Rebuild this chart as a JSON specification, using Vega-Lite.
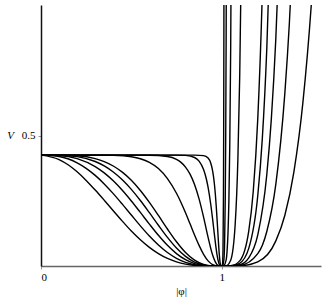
{
  "$schema": "https://vega.github.io/schema/vega-lite/v6.json",
  "width": 280,
  "height": 261,
  "autosize": {"type": "none"},
  "padding": {"left": 41, "top": 5, "right": 6, "bottom": 35},
  "config": {"view": {"stroke": null}, "font": "Liberation Serif"},
  "datasets": {
    "curves": [
      {"c":"2","phi":0,"V":0.425},{"c":"2","phi":0.1,"V":0.408},{"c":"2","phi":0.15,"V":0.388},{"c":"2","phi":0.2,"V":0.361},{"c":"2","phi":0.25,"V":0.328},{"c":"2","phi":0.3,"V":0.291},{"c":"2","phi":0.35,"V":0.252},{"c":"2","phi":0.4,"V":0.212},{"c":"2","phi":0.45,"V":0.172},{"c":"2","phi":0.5,"V":0.134},{"c":"2","phi":0.55,"V":0.1006},{"c":"2","phi":0.6,"V":0.0713},{"c":"2","phi":0.65,"V":0.0473},{"c":"2","phi":0.7,"V":0.0288},{"c":"2","phi":0.75,"V":0.0156},{"c":"2","phi":0.8,"V":0.0071},{"c":"2","phi":0.9,"V":0.0006},{"c":"2","phi":1,"V":0},{"c":"2","phi":1.1,"V":0.0008},{"c":"2","phi":1.2,"V":0.0159},{"c":"2","phi":1.3,"V":0.0963},{"c":"2","phi":1.35,"V":0.1945},{"c":"2","phi":1.4,"V":0.361},{"c":"2","phi":1.45,"V":0.628},{"c":"2","phi":1.5,"V":1.038},{"c":"2","phi":1.55,"V":1.644},

      {"c":"2.5","phi":0,"V":0.425},{"c":"2.5","phi":0.1,"V":0.4196},{"c":"2.5","phi":0.2,"V":0.3954},{"c":"2.5","phi":0.25,"V":0.3743},{"c":"2.5","phi":0.3,"V":0.3472},{"c":"2.5","phi":0.35,"V":0.3146},{"c":"2.5","phi":0.4,"V":0.2773},{"c":"2.5","phi":0.45,"V":0.2369},{"c":"2.5","phi":0.5,"V":0.1952},{"c":"2.5","phi":0.55,"V":0.1538},{"c":"2.5","phi":0.6,"V":0.1149},{"c":"2.5","phi":0.65,"V":0.0804},{"c":"2.5","phi":0.7,"V":0.0515},{"c":"2.5","phi":0.75,"V":0.0294},{"c":"2.5","phi":0.8,"V":0.0142},{"c":"2.5","phi":0.9,"V":0.0012},{"c":"2.5","phi":1,"V":0},{"c":"2.5","phi":1.1,"V":0.0022},{"c":"2.5","phi":1.2,"V":0.0472},{"c":"2.5","phi":1.25,"V":0.1323},{"c":"2.5","phi":1.3,"V":0.3136},{"c":"2.5","phi":1.35,"V":0.6633},{"c":"2.5","phi":1.375,"V":0.932},{"c":"2.5","phi":1.4,"V":1.287},

      {"c":"3","phi":0,"V":0.425},{"c":"3","phi":0.1,"V":0.4233},{"c":"3","phi":0.2,"V":0.4116},{"c":"3","phi":0.3,"V":0.3809},{"c":"3","phi":0.35,"V":0.3567},{"c":"3","phi":0.4,"V":0.3262},{"c":"3","phi":0.45,"V":0.29},{"c":"3","phi":0.5,"V":0.2491},{"c":"3","phi":0.55,"V":0.2052},{"c":"3","phi":0.6,"V":0.1606},{"c":"3","phi":0.65,"V":0.1177},{"c":"3","phi":0.7,"V":0.0792},{"c":"3","phi":0.75,"V":0.0475},{"c":"3","phi":0.8,"V":0.0241},{"c":"3","phi":0.85,"V":0.0094},{"c":"3","phi":0.9,"V":0.0023},{"c":"3","phi":0.95,"V":0.0002},{"c":"3","phi":1,"V":0},{"c":"3","phi":1.1,"V":0.0051},{"c":"3","phi":1.15,"V":0.0313},{"c":"3","phi":1.2,"V":0.1194},{"c":"3","phi":1.25,"V":0.3507},{"c":"3","phi":1.275,"V":0.5627},{"c":"3","phi":1.3,"V":0.8725},{"c":"3","phi":1.325,"V":1.315},

      {"c":"3.5","phi":0,"V":0.425},{"c":"3.5","phi":0.1,"V":0.4245},{"c":"3.5","phi":0.2,"V":0.419},{"c":"3.5","phi":0.3,"V":0.4004},{"c":"3.5","phi":0.35,"V":0.3835},{"c":"3.5","phi":0.4,"V":0.3602},{"c":"3.5","phi":0.45,"V":0.3303},{"c":"3.5","phi":0.5,"V":0.2935},{"c":"3.5","phi":0.55,"V":0.251},{"c":"3.5","phi":0.6,"V":0.2043},{"c":"3.5","phi":0.65,"V":0.1562},{"c":"3.5","phi":0.7,"V":0.1098},{"c":"3.5","phi":0.75,"V":0.069},{"c":"3.5","phi":0.8,"V":0.0367},{"c":"3.5","phi":0.85,"V":0.015},{"c":"3.5","phi":0.9,"V":0.0039},{"c":"3.5","phi":0.95,"V":0.0003},{"c":"3.5","phi":1,"V":0},{"c":"3.5","phi":1.05,"V":0.0005},{"c":"3.5","phi":1.1,"V":0.0105},{"c":"3.5","phi":1.15,"V":0.0674},{"c":"3.5","phi":1.2,"V":0.2702},{"c":"3.5","phi":1.225,"V":0.487},{"c":"3.5","phi":1.25,"V":0.8344},{"c":"3.5","phi":1.275,"V":1.372},

      {"c":"4","phi":0,"V":0.425},{"c":"4","phi":0.1,"V":0.4248},{"c":"4","phi":0.2,"V":0.4223},{"c":"4","phi":0.3,"V":0.4114},{"c":"4","phi":0.35,"V":0.4},{"c":"4","phi":0.4,"V":0.3831},{"c":"4","phi":0.45,"V":0.3595},{"c":"4","phi":0.5,"V":0.3283},{"c":"4","phi":0.55,"V":0.2895},{"c":"4","phi":0.6,"V":0.2439},{"c":"4","phi":0.65,"V":0.1936},{"c":"4","phi":0.7,"V":0.1417},{"c":"4","phi":0.75,"V":0.0928},{"c":"4","phi":0.8,"V":0.0516},{"c":"4","phi":0.85,"V":0.0222},{"c":"4","phi":0.9,"V":0.0059},{"c":"4","phi":0.95,"V":0.0005},{"c":"4","phi":1,"V":0},{"c":"4","phi":1.05,"V":0.0009},{"c":"4","phi":1.1,"V":0.0197},{"c":"4","phi":1.15,"V":0.1338},{"c":"4","phi":1.175,"V":0.2866},{"c":"4","phi":1.2,"V":0.5646},{"c":"4","phi":1.225,"V":1.044},{"c":"4","phi":1.25,"V":1.835},

      {"c":"8","phi":0,"V":0.425},{"c":"8","phi":0.3,"V":0.425},{"c":"8","phi":0.4,"V":0.4239},{"c":"8","phi":0.5,"V":0.4184},{"c":"8","phi":0.55,"V":0.411},{"c":"8","phi":0.6,"V":0.3972},{"c":"8","phi":0.65,"V":0.3734},{"c":"8","phi":0.7,"V":0.3351},{"c":"8","phi":0.75,"V":0.2787},{"c":"8","phi":0.775,"V":0.2434},{"c":"8","phi":0.8,"V":0.2039},{"c":"8","phi":0.825,"V":0.1617},{"c":"8","phi":0.85,"V":0.119},{"c":"8","phi":0.875,"V":0.0789},{"c":"8","phi":0.9,"V":0.0447},{"c":"8","phi":0.925,"V":0.0197},{"c":"8","phi":0.95,"V":0.0055},{"c":"8","phi":0.975,"V":0.0005},{"c":"8","phi":1,"V":0},{"c":"8","phi":1.025,"V":0.001},{"c":"8","phi":1.05,"V":0.0221},{"c":"8","phi":1.075,"V":0.1601},{"c":"8","phi":1.09,"V":0.4126},{"c":"8","phi":1.1,"V":0.7269},{"c":"8","phi":1.11,"V":1.2308},

      {"c":"16","phi":0,"V":0.425},{"c":"16","phi":0.6,"V":0.4245},{"c":"16","phi":0.7,"V":0.4194},{"c":"16","phi":0.75,"V":0.4082},{"c":"16","phi":0.775,"V":0.397},{"c":"16","phi":0.8,"V":0.3791},{"c":"16","phi":0.825,"V":0.352},{"c":"16","phi":0.85,"V":0.3122},{"c":"16","phi":0.875,"V":0.2571},{"c":"16","phi":0.9,"V":0.1872},{"c":"16","phi":0.925,"V":0.1097},{"c":"16","phi":0.95,"V":0.0418},{"c":"16","phi":0.975,"V":0.0052},{"c":"16","phi":0.99,"V":0.0002},{"c":"16","phi":1,"V":0},{"c":"16","phi":1.01,"V":0.0004},{"c":"16","phi":1.025,"V":0.0234},{"c":"16","phi":1.03,"V":0.0569},{"c":"16","phi":1.035,"V":0.1233},{"c":"16","phi":1.04,"V":0.2469},{"c":"16","phi":1.045,"V":0.4646},{"c":"16","phi":1.05,"V":0.8324},{"c":"16","phi":1.055,"V":1.434},{"c":"16","phi":1.06,"V":2.39},

      {"c":"32","phi":0,"V":0.425},{"c":"32","phi":0.75,"V":0.425},{"c":"32","phi":0.8,"V":0.4237},{"c":"32","phi":0.85,"V":0.4157},{"c":"32","phi":0.875,"V":0.4018},{"c":"32","phi":0.9,"V":0.3696},{"c":"32","phi":0.915,"V":0.3343},{"c":"32","phi":0.925,"V":0.3011},{"c":"32","phi":0.94,"V":0.2346},{"c":"32","phi":0.95,"V":0.1796},{"c":"32","phi":0.96,"V":0.1202},{"c":"32","phi":0.9675,"V":0.0771},{"c":"32","phi":0.975,"V":0.0404},{"c":"32","phi":0.9875,"V":0.0051},{"c":"32","phi":0.993,"V":0.0007},{"c":"32","phi":1,"V":0},{"c":"32","phi":1.005,"V":0.0004},{"c":"32","phi":1.0125,"V":0.0241},{"c":"32","phi":1.0165,"V":0.0953},{"c":"32","phi":1.02,"V":0.2601},{"c":"32","phi":1.0225,"V":0.4934},{"c":"32","phi":1.025,"V":0.892},{"c":"32","phi":1.0275,"V":1.552},{"c":"32","phi":1.03,"V":2.616},

      {"c":"64","phi":0,"V":0.425},{"c":"64","phi":0.85,"V":0.425},{"c":"64","phi":0.9,"V":0.423},{"c":"64","phi":0.925,"V":0.4135},{"c":"64","phi":0.94,"V":0.3935},{"c":"64","phi":0.95,"V":0.3647},{"c":"64","phi":0.955,"V":0.3425},{"c":"64","phi":0.96,"V":0.3134},{"c":"64","phi":0.965,"V":0.276},{"c":"64","phi":0.97,"V":0.2299},{"c":"64","phi":0.975,"V":0.1759},{"c":"64","phi":0.98,"V":0.1178},{"c":"64","phi":0.985,"V":0.0628},{"c":"64","phi":0.9875,"V":0.0397},{"c":"64","phi":0.99,"V":0.0215},{"c":"64","phi":0.995,"V":0.0024},{"c":"64","phi":1,"V":0},{"c":"64","phi":1.0025,"V":0.0004},{"c":"64","phi":1.005,"V":0.0085},{"c":"64","phi":1.0075,"V":0.0601},{"c":"64","phi":1.01,"V":0.2672},{"c":"64","phi":1.01125,"V":0.509},{"c":"64","phi":1.0125,"V":0.924},{"c":"64","phi":1.015,"V":2.738}
    ]
  },
  "data": {"name": "curves"},
  "mark": {"type": "line", "interpolate": "monotone", "clip": true, "color": "black", "strokeWidth": 1.4},
  "encoding": {
    "x": {
      "field": "phi", "type": "quantitative",
      "scale": {"domain": [0, 1.55], "nice": false, "zero": false},
      "axis": {
        "values": [0, 1], "title": "|φ|", "grid": false,
        "labelFont": "Liberation Serif", "labelFontSize": 11, "labelColor": "black",
        "titleFont": "Liberation Serif", "titleFontSize": 11, "titleFontWeight": "normal", "titleColor": "black",
        "domainColor": "#666666", "domainWidth": 1.5, "tickColor": "#999999", "tickSize": 3,
        "labelPadding": 2, "titlePadding": 3
      }
    },
    "y": {
      "field": "V", "type": "quantitative",
      "scale": {"domain": [0, 1], "nice": false},
      "axis": {
        "values": [0.5], "format": ".1f", "title": "V", "grid": false,
        "labelFont": "Liberation Serif", "labelFontSize": 11, "labelColor": "black",
        "titleFont": "Liberation Serif", "titleFontSize": 11, "titleFontWeight": "normal", "titleFontStyle": "italic", "titleColor": "black",
        "titleAngle": 0, "titleX": -31, "titleY": 130.5, "titleAlign": "center", "titleBaseline": "middle",
        "domainColor": "#111111", "domainWidth": 1.5, "tickColor": "#999999", "tickSize": 3, "labelPadding": 3
      }
    },
    "detail": {"field": "c", "type": "nominal"}
  }
}
